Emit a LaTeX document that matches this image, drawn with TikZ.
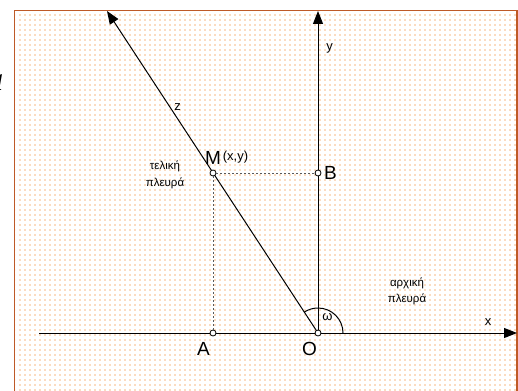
\documentclass[tikz,border=0pt]{standalone}
\usepackage{fontspec}
\setmainfont{Liberation Sans}
\newfontfamily\serifit{Liberation Serif}
\usetikzlibrary{patterns.meta,arrows.meta}
\definecolor{framec}{RGB}{190,90,40}
\definecolor{dotc}{RGB}{248,185,130}
\definecolor{dashc}{RGB}{90,90,90}
\tikzset{
  axis/.style={line width=1pt, -{Triangle[length=13pt,width=10pt]}},
  ray/.style={line width=1pt},
  helper/.style={dashc, line width=0.9pt, dash pattern=on 2pt off 2pt},
  pt/.style={circle, draw, line width=0.8pt, fill=white, inner sep=0pt, minimum size=6pt},
  big/.style={font=\fontsize{19}{19}\selectfont, inner sep=0pt},
  small/.style={font=\fontsize{13}{14}\selectfont, inner sep=0pt},
  txt/.style={font=\fontsize{11.5}{16.5}\selectfont, align=center, inner sep=0pt}
}
\begin{document}
\begin{tikzpicture}[x=1pt,y=-1pt]
\useasboundingbox (0,0) rectangle (518,390);
\fill[white] (0,0) rectangle (518,390);
\fill[pattern={Dots[distance=5pt,radius=0.8pt]}, pattern color=dotc] (15.5,11.5) rectangle (516,395);
\draw[framec, line width=1.8pt] (14.5,400) -- (14.5,10.5) -- (517,10.5) -- (517,400);

\node[inner sep=0pt, font=\fontsize{34}{34}\selectfont\serifit\itshape] (alpha) at (-5,83) {a};

\coordinate (xs) at (39,333);
\coordinate (xe) at (517,333);
\coordinate (ye) at (318,11);
\coordinate (ze) at (107,11);
\coordinate (Oc) at (318,333);

\draw[axis] (xs) -- (xe);
\draw[axis] (Oc) -- (ye);
\draw[axis] (Oc) -- (ze);

\draw[ray] (Oc) ++(25,0) arc[start angle=0, end angle=-123.3, radius=25];

\node[pt] (M) at (213,173) {};
\node[pt] (B) at (318,173) {};
\node[pt] (A) at (213,333) {};
\draw[helper] (M) -- (A);
\draw[helper] (M) -- (B);
\node[pt] (O) at (318,333) {};

\node[big] (lM) at (213,157.5) {M};
\node[small] (lxy) at (235.5,157.5) {(x,y)};
\node[big] (lB) at (330.5,173) {B};
\node[big] (lA) at (203.5,349) {A};
\node[big] (lO) at (309.5,349) {O};
\node[small] (lw) at (327.5,317) {ω};
\node[small] (lx) at (488,322) {x};
\node[small] (ly) at (329.5,48) {y};
\node[small] (lz) at (177.5,107) {z};
\node[txt] (tel) at (165,175) {τελική\\πλευρά};
\node[txt] (arx) at (407,291.5) {αρχική\\πλευρά};
\end{tikzpicture}
\end{document}
